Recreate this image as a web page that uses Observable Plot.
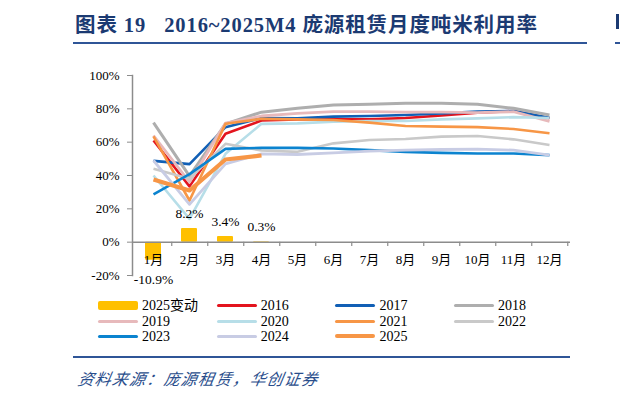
<!DOCTYPE html>
<html>
<head>
<meta charset="utf-8">
<script src="https://cdn.jsdelivr.net/npm/d3@7"></script>
<script src="https://cdn.jsdelivr.net/npm/@observablehq/plot@0.6"></script>
<style>
  html, body { margin: 0; padding: 0; background: #fff; }
  #wrap { position: relative; width: 620px; height: 398px; overflow: hidden; background: #fff; }
  #wrap svg { position: absolute; left: 0; top: 0; }
  .title { position: absolute; left: 75px; top: 8px; font-family: "Liberation Serif", "Noto Sans CJK SC", serif; font-weight: bold; font-size: 20.5px; color: #1B3A72; white-space: nowrap; letter-spacing: 0.9px; }
  .hline { position: absolute; height: 2px; background: #2F5597; }
  .leg { position: absolute; display: flex; align-items: center; font-family: "Liberation Serif", "Noto Sans CJK SC", serif; font-size: 14px; line-height: 15px; height: 15px; color: #000; white-space: nowrap; }
  .sw { width: 40px; margin-right: 4px; border-radius: 2px; }
  .source { position: absolute; left: 76px; top: 366px; font-family: "Noto Sans CJK SC", sans-serif; font-style: italic; font-size: 16px; color: #2A4E8C; white-space: nowrap; letter-spacing: 1.2px; transform: skewX(-10deg); transform-origin: left bottom; }
</style>
</head>
<body>
<div id="wrap"></div>
<script>
const months = ["1月","2月","3月","4月","5月","6月","7月","8月","9月","10月","11月","12月"];
const yTicks = [-20, 0, 20, 40, 60, 80, 100];
const years = ["2016","2017","2018","2019","2020","2021","2022","2023","2024","2025"];
const change2025 = [-10.9, 8.2, 3.4, 0.3];
const s2016 = [61, 33.5, 65, 73, 73.7, 73.7, 73.7, 74.5, 76, 77.7, 78.7, 74.3];
const s2017 = [48.8, 46.8, 69, 74.5, 74.3, 75.3, 75.7, 76.3, 77.3, 78.3, 78.7, 74.7];
const s2018 = [71.7, 39.6, 71, 78, 80.3, 82.3, 82.7, 83.4, 83.4, 82.7, 80.3, 76.3];
const s2019 = [64, 36, 71.5, 75.7, 77.3, 78.3, 78.3, 78, 78, 77.7, 78.3, 72.5];
const s2020 = [40, 14, 53, 71, 71.3, 72.3, 72.7, 72.7, 73.7, 74.3, 75, 74.5];
const s2021 = [63.5, 25, 71, 74, 73.7, 73.3, 71.7, 69.7, 69.3, 69, 67.9, 65.3];
const s2022 = [44, 38, 59, 55, 54.2, 59.3, 61.3, 61.9, 63.3, 63.7, 61.7, 58.3];
const s2023 = [28.7, 40.8, 56, 56.6, 56.6, 56.2, 55.2, 54.2, 53.6, 53.2, 53.2, 52.2];
const s2024 = [49, 22.7, 47, 53, 52.6, 53.6, 54.6, 55.2, 55.6, 55.8, 55.2, 52.2];
const s2025 = [37.6, 31, 49.6, 52];
const seriesValues = [s2016, s2017, s2018, s2019, s2020, s2021, s2022, s2023, s2024, s2025];
const colors = ["#E3141E", "#115FB5", "#AEAEAE", "#E7B9BB", "#B7DEE8", "#F79646", "#C9C9C9", "#0B83CF", "#C8CCE4", "#F79646"];
const widths = [2.6, 2.6, 3, 2.8, 2.6, 2.6, 2.6, 2.6, 2.8, 4.2];
const barColor = "#FFC000";
const barLabel = "2025变动";

const W = 620, H = 398;
const mL = 132, mR = 50, mT = 75, mB = 123;
const bw = (W - mL - mR) / months.length;

const barData = change2025.map((v, i) => ({month: months[i], v}));
const lineMarks = seriesValues.map((vals, k) =>
  Plot.lineY(vals.map((v, i) => ({month: months[i], v})), {
    x: "month", y: "v", stroke: colors[k], strokeWidth: widths[k],
    strokeLinejoin: "round", strokeLinecap: "butt"
  })
);

const axisGray = "#8C8C8C";
const chart = Plot.plot({
  width: W, height: H,
  marginLeft: mL, marginRight: mR, marginTop: mT, marginBottom: mB,
  style: {fontFamily: "'Liberation Serif', 'Noto Sans CJK SC', serif", fontSize: "13px", color: "#000", background: "transparent"},
  x: {type: "band", domain: months, padding: 0, axis: null},
  y: {domain: [-20, 100], axis: null},
  marks: [
    Plot.barY(barData, {x: "month", y: "v", fill: barColor, insetLeft: 10, insetRight: 10, rx: 1}),
    Plot.ruleY([0], {stroke: axisGray, strokeWidth: 1.5}),
    Plot.ruleX(months, {x: d => d, dx: bw / 2, y1: 0, y2: -2.6, stroke: axisGray, strokeWidth: 1.2}),
    Plot.frame({anchor: "left", stroke: axisGray, strokeWidth: 1.5}),
    Plot.axisY({ticks: yTicks, tickFormat: d => d + "%", tickSize: 5, tickPadding: 8, stroke: axisGray, fill: "#000", fontSize: 13, label: null}),
    Plot.text(months, {x: d => d, y: () => 0, dy: 18, text: d => d, fill: "#000", fontSize: 13}),
    ...lineMarks,
    Plot.text(barData.filter(d => d.v >= 0), {x: "month", y: "v", dy: -15, text: d => d.v.toFixed(1) + "%", fill: "#000", fontSize: 13.5}),
    Plot.text(barData.filter(d => d.v < 0), {x: "month", y: "v", dy: 19, text: d => d.v.toFixed(1) + "%", fill: "#000", fontSize: 13.5})
  ]
});

const wrap = document.getElementById("wrap");
wrap.appendChild(chart);

function add(html) { const d = document.createElement("div"); d.innerHTML = html; wrap.appendChild(d.firstElementChild); }
add('<div class="title">图表 19&nbsp;&nbsp;&nbsp;2016~2025M4 庞源租赁月度吨米利用率</div>');
add('<div class="hline" style="left:73px; top:42px; width:514px;"></div>');
add('<div class="hline" style="left:615px; top:42px; width:5px;"></div>');
add('<div style="position:absolute; left:616px; top:14px; width:3px; height:15px; background:#1B3A72;"></div>');

// Legend
const legItems = [{label: barLabel, color: barColor, bar: true}].concat(years.map((y, k) => ({label: y, color: colors[k], w: widths[k]})));
const rowsY = [305.7, 321, 336.3];
legItems.forEach((it, i) => {
  const col = i % 4, row = Math.floor(i / 4);
  const left = 98 + col * 118.7;
  const h = it.bar ? 9 : Math.max(3, Math.round(it.w));
  add(`<div class="leg" style="left:${left}px; top:${rowsY[row] - 7.5}px;"><span class="sw" style="height:${h}px; background:${it.color};"></span><span>${it.label}</span></div>`);
});

add('<div class="hline" style="left:73px; top:356px; width:497px;"></div>');
add('<div class="source">资料来源：庞源租赁，华创证券</div>');
</script>
</body>
</html>
